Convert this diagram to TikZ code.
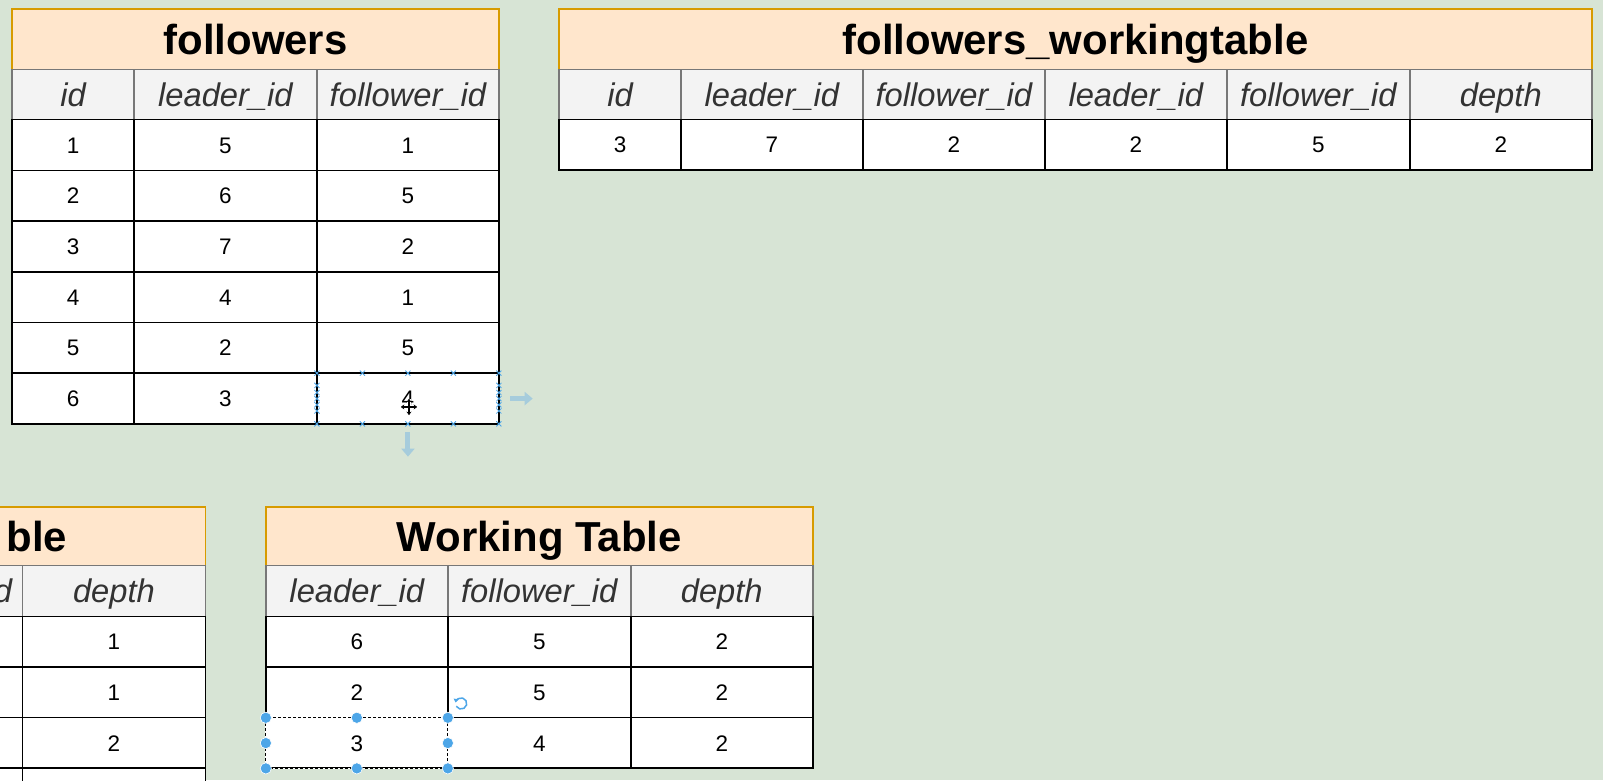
\documentclass[tikz,border=0pt]{standalone}
\usepackage{fontspec}
\setmainfont{Liberation Sans}
\usetikzlibrary{arrows.meta}
\definecolor{bg}{HTML}{D7E4D5}
\definecolor{ttlfill}{HTML}{FFE6CC}
\definecolor{ttldraw}{HTML}{D79B00}
\definecolor{hdrfill}{HTML}{F3F3F3}
\definecolor{hdrdraw}{HTML}{777777}
\definecolor{hdrtext}{HTML}{333333}
\definecolor{selblue}{HTML}{4DA6E8}
\definecolor{arrblue}{HTML}{A6CCDC}
\tikzset{
 cellbase/.style={rectangle, anchor=north west, inner sep=0pt, outer sep=0pt, line width=1.6pt},
 ttlcell/.style={cellbase, draw=ttldraw, fill=ttlfill, font=\fontsize{41}{45}\selectfont\bfseries, text height=29.5pt, text depth=0pt},
 hdrfont/.style={text=hdrtext, font=\fontsize{32}{36}\selectfont\itshape, text height=22.5pt, text depth=0pt},
 hdrcell/.style={cellbase, draw=hdrdraw, fill=hdrfill, hdrfont},
 datcell/.style={cellbase, draw=black, fill=white, font=\fontsize{22}{26}\selectfont, text height=15.8pt, text depth=0pt},
 xmark/.style={selblue, line width=0.8pt},
 seldot/.style={circle, fill=selblue, draw=white, line width=0.6pt, inner sep=0pt, minimum size=11pt},
 movearrow/.style={arrblue, line width=5pt, -{Triangle[length=8pt,width=13pt]}},
}
\begin{document}
\begin{tikzpicture}[x=1pt,y=-1pt,scale=1.0223,transform shape]
\useasboundingbox (0,0) rectangle (1568,763);
\clip (0,0) rectangle (1568,763);
\fill[bg] (0,0) rectangle (1568,763);

% ---------------- followers ----------------
\node[ttlcell, minimum width=476pt, minimum height=59pt] (f-title) at (12,9) {followers};
\foreach \x/\w/\t [count=\i] in {12/119/id, 131/179/leader\_id, 310/178/follower\_id}
  \node[hdrcell, minimum width=\w pt, minimum height=49pt] (f-h\i) at (\x,68) {\t};
\foreach \a/\b/\c [count=\r] in {1/5/1, 2/6/5, 3/7/2, 4/4/1, 5/2/5, 6/3/4} {
  \pgfmathsetmacro\yy{117+49.6*(\r-1)}
  \node[datcell, minimum width=119pt, minimum height=49.6pt] (f-r\r c1) at (12,\yy) {\a};
  \node[datcell, minimum width=179pt, minimum height=49.6pt] (f-r\r c2) at (131,\yy) {\b};
  \node[datcell, minimum width=178pt, minimum height=49.6pt] (f-r\r c3) at (310,\yy) {\c};
}

% ---------------- followers_workingtable ----------------
\node[ttlcell, minimum width=1010pt, minimum height=59pt] (w-title) at (547,9) {followers\_workingtable};
\foreach \x/\w/\t/\v [count=\i] in {547/119/id/3, 666/178/leader\_id/7, 844/178/follower\_id/2, 1022/178/leader\_id/2, 1200/179/follower\_id/5, 1379/178/depth/2} {
  \node[hdrcell, minimum width=\w pt, minimum height=49pt] (w-h\i) at (\x,68) {\t};
  \node[datcell, minimum width=\w pt, minimum height=49pt] (w-r1c\i) at (\x,117) {\v};
}

% ---------------- partial table (bottom left) ----------------
\node[ttlcell, minimum width=601pt, minimum height=57pt] (r-title) at (-400,496) {};
\node[anchor=east, inner sep=0pt, font=\fontsize{41}{45}\selectfont\bfseries, text height=29.5pt, text depth=0pt] (r-titletext) at (66,524.5) {ble};
\node[hdrcell, minimum width=179pt, minimum height=50pt] (r-h1) at (-157,553) {};
\node[anchor=east, inner sep=0pt, hdrfont] (r-h1text) at (12,578) {d};
\node[hdrcell, minimum width=179pt, minimum height=50pt] (r-h2) at (22,553) {depth};
\foreach \v [count=\r] in {1,1,2,{}} {
  \pgfmathsetmacro\yy{603+49.5*(\r-1)}
  \node[datcell, minimum width=179pt, minimum height=49.5pt] (r-r\r c1) at (-157,\yy) {};
  \node[datcell, minimum width=179pt, minimum height=49.5pt] (r-r\r c2) at (22,\yy) {\v};
}

% ---------------- Working Table ----------------
\node[ttlcell, minimum width=535pt, minimum height=57pt] (k-title) at (260,496) {Working Table};
\foreach \x/\w/\t [count=\i] in {260/178/leader\_id, 438/179/follower\_id, 617/178/depth}
  \node[hdrcell, minimum width=\w pt, minimum height=50pt] (k-h\i) at (\x,553) {\t};
\foreach \a/\b/\c [count=\r] in {6/5/2, 2/5/2, 3/4/2} {
  \pgfmathsetmacro\yy{603+49.5*(\r-1)}
  \node[datcell, minimum width=178pt, minimum height=49.5pt] (k-r\r c1) at (260,\yy) {\a};
  \node[datcell, minimum width=179pt, minimum height=49.5pt] (k-r\r c2) at (438,\yy) {\b};
  \node[datcell, minimum width=178pt, minimum height=49.5pt] (k-r\r c3) at (617,\yy) {\c};
}

% ---------------- selection on followers cell (row 6, col 3) ----------------
\foreach \px in {310,354.5,399,443.5,488} {
  \foreach \py in {365,414.6} {
    \draw[xmark] (\px-2.5,\py-2.5) -- (\px+2.5,\py+2.5) (\px-2.5,\py+2.5) -- (\px+2.5,\py-2.5);
  }
}
\foreach \px in {310,488} {
  \foreach \py in {377,384,390,396,402} {
    \draw[xmark] (\px-2.5,\py-2.5) -- (\px+2.5,\py+2.5) (\px-2.5,\py+2.5) -- (\px+2.5,\py-2.5);
  }
}
\draw[movearrow] ([xshift=11pt]f-r6c3.east) -- ++(22,0);
\draw[movearrow] ([yshift=-8pt]f-r6c3.south) -- ++(0,24);
% move cursor
\coordinate (cur) at (400,398);
\draw[white, line width=3.2pt] ([xshift=-8pt]cur) -- ([xshift=8pt]cur) ([yshift=-8pt]cur) -- ([yshift=8pt]cur);
\draw[black, line width=1.3pt, {Stealth[length=3.5pt,width=5pt]}-{Stealth[length=3.5pt,width=5pt]}] ([xshift=-8pt]cur) -- ([xshift=8pt]cur);
\draw[black, line width=1.3pt, {Stealth[length=3.5pt,width=5pt]}-{Stealth[length=3.5pt,width=5pt]}] ([yshift=-8pt]cur) -- ([yshift=8pt]cur);

% ---------------- selection on Working Table cell (row 3, col 1) ----------------
\draw[white, line width=1.6pt] (k-r3c1.north west) rectangle (k-r3c1.south east);
\draw[black, line width=1.3pt, dash pattern=on 3pt off 2pt] (k-r3c1.north west) rectangle (k-r3c1.south east);
\foreach \an in {north west, north, north east, west, east, south west, south, south east}
  \node[seldot] at (k-r3c1.\an) {};
\coordinate (rot) at (451,688);
\draw[selblue, line width=1.5pt, -{Triangle[length=3.5pt,width=5pt]}] ([shift={(150:5.5)}]rot) arc (150:-170:5.5);
\end{tikzpicture}
\end{document}
